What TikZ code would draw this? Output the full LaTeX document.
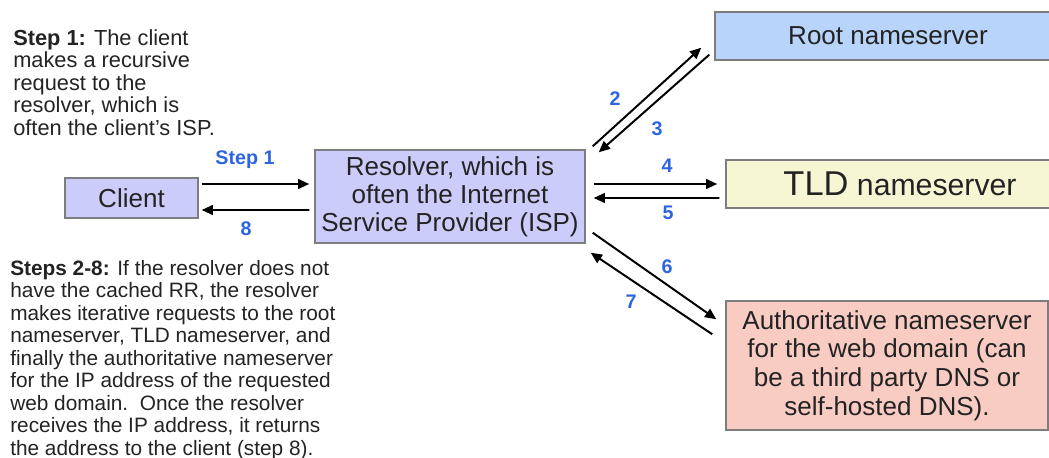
\documentclass[tikz,border=0pt]{standalone}
\usepackage{fontspec}
\setmainfont{Liberation Sans}
\usetikzlibrary{positioning,calc,arrows.meta}
\definecolor{boxline}{RGB}{125,125,125}
\definecolor{resolverfill}{RGB}{204,204,250}
\definecolor{rootfill}{RGB}{184,212,250}
\definecolor{tldfill}{RGB}{246,246,212}
\definecolor{authfill}{RGB}{248,204,194}
\definecolor{stepblue}{RGB}{45,100,225}
\definecolor{inktext}{RGB}{35,35,35}
\tikzset{
  server/.style={draw=boxline, line width=1pt, text=inktext, inner sep=0pt, align=center},
  msg/.style={-{Triangle[length=8pt,width=7pt]}, line width=1.4pt},
  steplabel/.style={text=stepblue, inner sep=0pt, font=\fontsize{14}{14}\selectfont\bfseries},
  notes/.style={anchor=north west, inner sep=0pt, align=left, text=inktext}
}

\begin{document}
\begin{tikzpicture}[x=0.025cm, y=-0.025cm]

	\useasboundingbox (0,0) rectangle (1049,458);

	\node[server, fill=resolverfill, minimum width=3.325cm, minimum height=1cm,
		font=\fontsize{18.5}{20}\selectfont] (client) at (131.5,198) {Client};
	\node[server, fill=resolverfill, minimum width=6.75cm, minimum height=2.325cm,
		font=\fontsize{18.5}{20}\selectfont] (resolver) at (450,196.5)
		{Resolver, which is\\often the Internet\\Service Provider (ISP)};
	\node[server, fill=rootfill, minimum width=8.65cm, minimum height=1.2cm,
		font=\fontsize{18.5}{20}\selectfont] (root) at (888,36) {Root nameserver};
	\node[server, fill=tldfill, minimum width=8.7cm, minimum height=1.2cm,
		font=\fontsize{21.5}{22}\selectfont] (tld) at (900,184)
		{{\fontsize{24.5}{22}\selectfont TLD} nameserver};
	\node[server, fill=authfill, minimum width=8.05cm, minimum height=3.225cm,
		font=\fontsize{18.5}{20.4}\selectfont] (auth) at (887,365.5)
		{Authoritative nameserver\\for the web domain (can\\be a third party DNS or\\self-hosted DNS).};

	\draw[msg] ($(client.east)+(3,-14)$) -- ($(resolver.west)+(-5,-12.5)$);
	\draw[msg] ($(resolver.west)+(-5,13.5)$) -- ($(client.east)+(3,12)$);
	\draw[msg] ($(resolver.north east)+(7,-3)$) -- ($(root.south west)+(-13,-13)$);
	\draw[msg] ($(root.south west)+(-5,-6)$) -- ($(resolver.north east)+(13,3)$);
	\draw[msg] ($(resolver.east)+(8,-12.5)$) -- ($(tld.west)+(-8,0)$);
	\draw[msg] ($(tld.west)+(-6,14)$) -- ($(resolver.east)+(8,1.5)$);
	\draw[msg] ($(resolver.south east)+(7,-11)$) -- ($(auth.north west)+(-9,19)$);
	\draw[msg] ($(auth.north west)+(-13,34)$) -- ($(resolver.south east)+(5,9)$);

	\node[steplabel] (lblone) at (245,160) {Step 1};
	\node[steplabel] (lbleight) at (246,229) {8};
	\node[steplabel] (lbltwo) at (615,99) {2};
	\node[steplabel] (lblthree) at (657,129) {3};
	\node[steplabel] (lblfour) at (667,166) {4};
	\node[steplabel] (lblfive) at (668,213) {5};
	\node[steplabel] (lblsix) at (667,267) {6};
	\node[steplabel] (lblseven) at (631,302) {7};

	\node[notes, font=\fontsize{15.5}{16}\selectfont] (stepnote) at (13,29)
		{\textbf{Step 1:} The client\\makes a recursive\\request to the\\resolver, which is\\often the client's ISP.};
	\node[notes, font=\fontsize{14.8}{16}\selectfont] (stepsnote) at (10,260)
		{\textbf{Steps 2-8:} If the resolver does not\\have the cached RR, the resolver\\makes iterative requests to the root\\nameserver, TLD nameserver, and\\finally the authoritative nameserver\\for the IP address of the requested\\web domain.\ \ Once the resolver\\receives the IP address, it returns\\the address to the client (step 8).};

\end{tikzpicture}
\end{document}
